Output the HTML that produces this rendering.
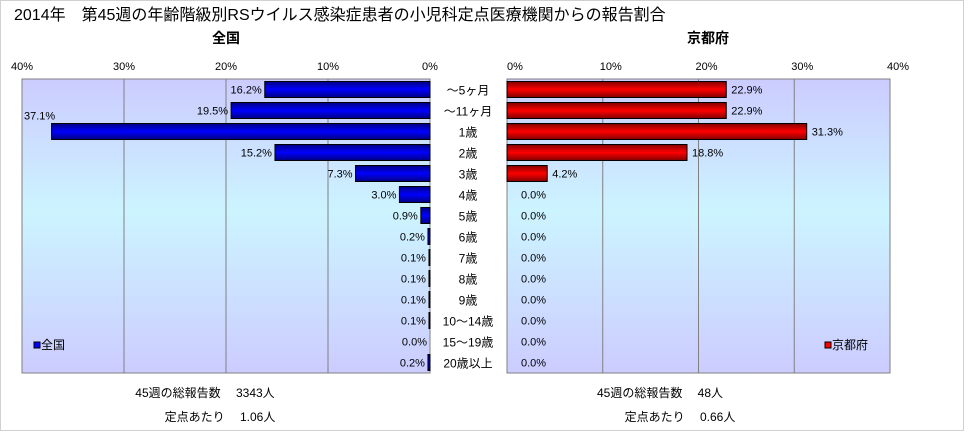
<!DOCTYPE html>
<html><head><meta charset="utf-8"><style>
body{margin:0;background:#fff;}
svg text{font-family:"Liberation Sans","Noto Sans CJK JP",sans-serif;}
</style></head><body>
<svg width="968" height="431" viewBox="0 0 968 431" xmlns="http://www.w3.org/2000/svg">
<defs>
<linearGradient id="bg" x1="0" y1="0" x2="0" y2="1">
<stop offset="0" stop-color="#ccccff"/><stop offset="0.45" stop-color="#ccf4ff"/><stop offset="1" stop-color="#ccccff"/>
</linearGradient>
<linearGradient id="blue" x1="0" y1="0" x2="0" y2="1">
<stop offset="0" stop-color="#000080"/><stop offset="0.5" stop-color="#0000ff"/><stop offset="1" stop-color="#000080"/>
</linearGradient>
<linearGradient id="red" x1="0" y1="0" x2="0" y2="1">
<stop offset="0" stop-color="#800000"/><stop offset="0.5" stop-color="#ff0000"/><stop offset="1" stop-color="#800000"/>
</linearGradient>
</defs>
<rect x="0.5" y="0.5" width="963" height="430" fill="#fff" stroke="#d0d0d0"/>
<text x="14" y="20" font-size="16">2014年　第45週の年齢階級別RSウイルス感染症患者の小児科定点医療機関からの報告割合</text>
<text x="226" y="43" font-size="14" font-weight="bold" text-anchor="middle">全国</text>
<text x="708" y="43" font-size="14" font-weight="bold" text-anchor="middle">京都府</text>
<g id="g"></g>
<text x="205" y="397" font-size="12" text-anchor="middle">45週の総報告数　 3343人</text>
<text x="220" y="421" font-size="12" text-anchor="middle">定点あたり　 1.06人</text>
<text x="660" y="397" font-size="12" text-anchor="middle">45週の総報告数　 48人</text>
<text x="680" y="421" font-size="12" text-anchor="middle">定点あたり　 0.66人</text>
</svg>
<script>
const categories=["～5ヶ月","～11ヶ月","1歳","2歳","3歳","4歳","5歳","6歳","7歳","8歳","9歳","10～14歳","15～19歳","20歳以上"];
const nationalValues=[16.2,19.5,37.1,15.2,7.3,3.0,0.9,0.2,0.1,0.1,0.1,0.1,0.0,0.2];
const kyotoValues=[22.9,22.9,31.3,18.8,4.2,0,0,0,0,0,0,0,0,0];
const tickValues=[0,10,20,30,40];
const ns="http://www.w3.org/2000/svg";
const g=document.getElementById('g');
const yTop=79,yBottom=373,rowH=(yBottom-yTop)/categories.length,barH=16;
const L={x0:430,x1:22,max:40};
const R={x0:507,x1:890,max:40};
const lx=v=>L.x0+(L.x1-L.x0)*v/L.max;
const rx=v=>R.x0+(R.x1-R.x0)*v/R.max;
const rowY=i=>yTop+rowH*i+rowH/2;
function mk(tag,a){const e=document.createElementNS(ns,tag);for(const k in a)e.setAttribute(k,a[k]);g.appendChild(e);return e;}
let e=mk('rect',{x:L.x1,y:yTop,width:L.x0-L.x1,height:yBottom-yTop,fill:'url(#bg)',stroke:'#808080'});


e=mk('rect',{x:R.x0,y:yTop,width:R.x1-R.x0,height:yBottom-yTop,fill:'url(#bg)',stroke:'#808080'});


tickValues.forEach(t=>{
  e=mk('line',{x1:lx(t),x2:lx(t),y1:yTop,y2:yBottom,stroke:'#808080'});
  
  
  e=mk('line',{x1:rx(t),x2:rx(t),y1:yTop,y2:yBottom,stroke:'#808080'});
  
  
  e=mk('text',{x:lx(t),y:70,'font-size':11,'text-anchor':'middle'});e.textContent=t+'%';
  
  
  e=mk('text',{x:rx(t)+8,y:70,'font-size':11,'text-anchor':'middle'});e.textContent=t+'%';
  
  
});
categories.forEach((c,i)=>{
  const y=rowY(i);
  e=mk('text',{x:468,y:y+5,'font-size':12,'text-anchor':'middle'});e.textContent=c;
  
  
  const v=nationalValues[i];
  e=mk('rect',{x:lx(v),y:y-barH/2,width:lx(0)-lx(v),height:barH,fill:'url(#blue)',stroke:'#000'});
  
  
  const big=(lx(v)<60);
  e=mk('text',{x:big?24:lx(v)-3,y:big?y-12:y+4,'font-size':11,'text-anchor':big?'start':'end'});e.textContent=v.toFixed(1)+'%';
  
  
  const k=kyotoValues[i];
  if(k>0){
    e=mk('rect',{x:rx(0),y:y-barH/2,width:rx(k)-rx(0),height:barH,fill:'url(#red)',stroke:'#000'});
    
    
  }
  e=mk('text',{x:rx(k)+(k>0?5:14),y:y+4,'font-size':11});e.textContent=k.toFixed(1)+'%';
  
  
});
e=mk('rect',{x:34,y:342,width:6,height:6,fill:'#0000ff',stroke:'#000'});


e=mk('text',{x:41,y:349,'font-size':12});e.textContent='全国';


e=mk('rect',{x:825,y:342,width:6,height:6,fill:'#ff0000',stroke:'#000'});


e=mk('text',{x:832,y:349,'font-size':12});e.textContent='京都府';


</script>
</body></html>
